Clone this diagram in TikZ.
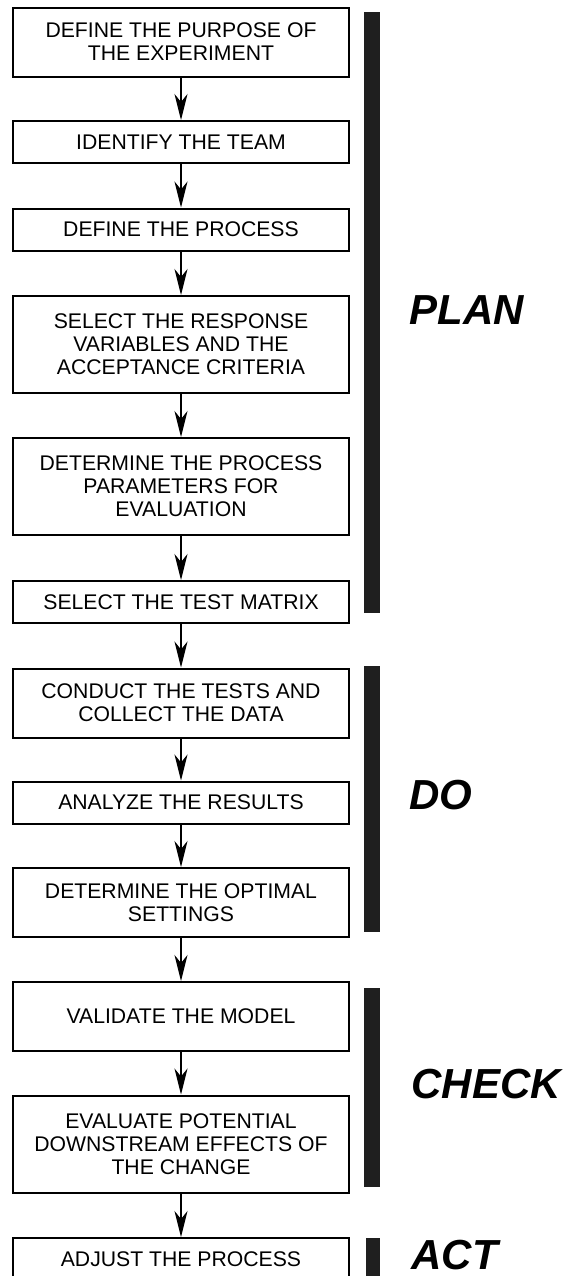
\documentclass[tikz,border=0pt]{standalone}
\usepackage{fontspec}
\setmainfont{Liberation Sans}
\usetikzlibrary{arrows.meta}

\begin{document}
\begin{tikzpicture}[x=0.5pt, y=-0.5pt]
    % Define box, bar and label shapes
    \tikzstyle{task}=[draw, rectangle, line width=1pt, minimum width=168pt, inner sep=2pt, align=center, font=\fontsize{10.6}{11.5}\selectfont]
    \tikzstyle{short}=[task, minimum height=21pt]
    \tikzstyle{medium}=[task, minimum height=34.5pt]
    \tikzstyle{tall}=[task, minimum height=48.5pt]
    \tikzstyle{bar}=[fill=black!88]
    \tikzstyle{phase}=[anchor=west, inner sep=0pt, font=\fontsize{21}{21}\selectfont\bfseries\itshape]
    \tikzstyle{flow}=[-{Stealth[length=13pt, width=6.5pt, inset=4pt]}, line width=0.9pt]

    % Keep the page to the cut of the reference
    \clip (0,0) rectangle (567,1276);

    % Place plan steps
    \node[medium] (purpose) at (181,42) {DEFINE THE PURPOSE OF\\THE EXPERIMENT};
    \node[short] (team) at (181,142) {IDENTIFY THE TEAM};
    \node[short] (process) at (181,229.5) {DEFINE THE PROCESS};
    \node[tall] (response) at (181,344.5) {SELECT THE RESPONSE\\VARIABLES AND THE\\ACCEPTANCE CRITERIA};
    \node[tall] (params) at (181,486.5) {DETERMINE THE PROCESS\\PARAMETERS FOR\\EVALUATION};
    \node[short] (matrix) at (181,602) {SELECT THE TEST MATRIX};

    % Place do steps
    \node[medium] (tests) at (181,703) {CONDUCT THE TESTS AND\\COLLECT THE DATA};
    \node[short] (analyze) at (181,802.5) {ANALYZE THE RESULTS};
    \node[medium] (optimal) at (181,902.5) {DETERMINE THE OPTIMAL\\SETTINGS};

    % Place check steps
    \node[medium] (validate) at (181,1016.5) {VALIDATE THE MODEL};
    \node[tall] (effects) at (181,1144) {EVALUATE POTENTIAL\\DOWNSTREAM EFFECTS OF\\THE CHANGE};

    % Place act step
    \node[short] (adjust) at (181,1259) {ADJUST THE PROCESS};

    % Connect steps
    \draw[flow] (purpose) -- (team);
    \draw[flow] (team) -- (process);
    \draw[flow] (process) -- (response);
    \draw[flow] (response) -- (params);
    \draw[flow] (params) -- (matrix);
    \draw[flow] (matrix) -- (tests);
    \draw[flow] (tests) -- (analyze);
    \draw[flow] (analyze) -- (optimal);
    \draw[flow] (optimal) -- (validate);
    \draw[flow] (validate) -- (effects);
    \draw[flow] (effects) -- (adjust);

    % Phase bars
    \fill[bar] (364,12) rectangle (380,613);
    \fill[bar] (364,666) rectangle (380,932);
    \fill[bar] (364,988) rectangle (380,1187);
    \fill[bar] (366,1238) rectangle (380,1280);

    % Phase labels
    \node[phase] (plan) at (409,310) {PLAN};
    \node[phase] (do) at (409,795) {DO};
    \node[phase] (check) at (411,1084) {CHECK};
    \node[phase] (act) at (411,1255) {ACT};
\end{tikzpicture}
\end{document}
